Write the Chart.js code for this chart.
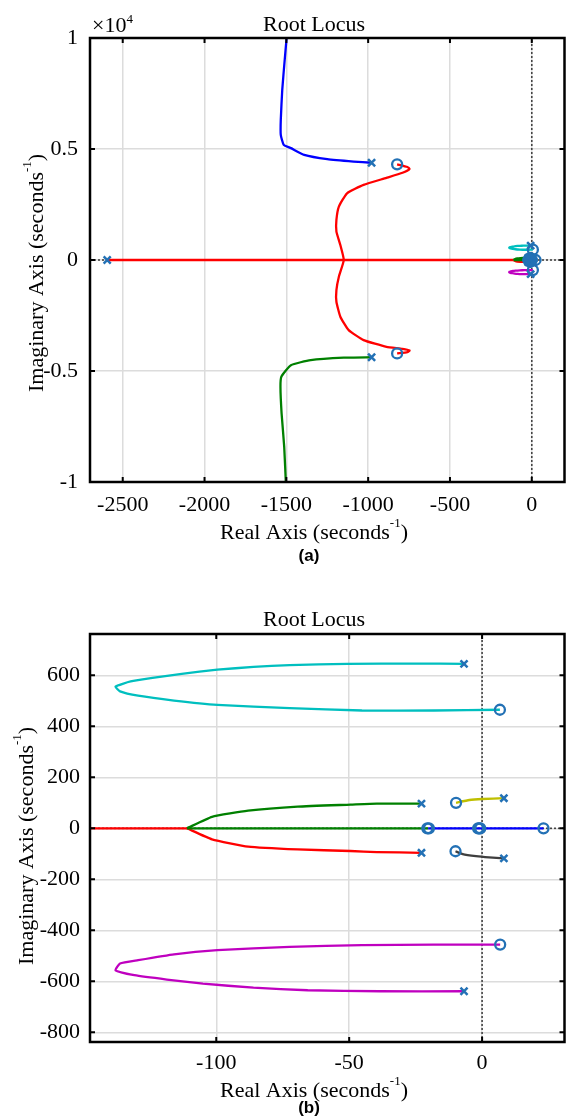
<!DOCTYPE html>
<html>
<head>
<meta charset="utf-8">
<script src="https://cdn.jsdelivr.net/npm/chart.js@4.4.1/dist/chart.umd.min.js"></script>
<style>
  html, body { margin: 0; padding: 0; background: #fff; }
  body { width: 572px; height: 1119px; position: relative; overflow: hidden; }
  canvas { position: absolute; left: 0; display: block; }
  #graficoA { top: 0; }
  #graficoB { top: 575px; }
</style>
</head>
<body>
<canvas id="graficoA" width="572" height="575"></canvas>
<canvas id="graficoB" width="572" height="544"></canvas>
<script>
const FUENTE_SERIF = "'Liberation Serif', 'Times New Roman', serif";
const FUENTE_SANS = "'Liberation Sans', Arial, sans-serif";
const COLOR_MARCA = "#2371b5";

// ejes de (a)
const ticksXA = [-2500, -2000, -1500, -1000, -500, 0];
const ticksYA = [-10000, -5000, 0, 5000, 10000];
const limXA = [-2700, 200];
const limYA = [-10000, 10000];

// ejes de (b)
const ticksXB = [-100, -50, 0];
const ticksYB = [-800, -600, -400, -200, 0, 200, 400, 600];
const limXB = [-147.5, 31];
const limYB = [-838, 762];

// ramas del lugar de raices (parte real / parte imaginaria)
const azulReal = [-1496, -1510, -1525, -1534, -1534, -1516, -1472, -1391, -1250, -1089, -979];
const azulImag = [10200, 9020, 7667, 6314, 5638, 5187, 5038, 4736, 4542, 4433, 4380];

const verdeReal = [-1502, -1513, -1529, -1536, -1530, -1472, -1351, -1149, -979];
const verdeImag = [-10200, -8420, -6914, -5714, -5250, -4736, -4510, -4400, -4380];

const rojoReal = [-823, -760, -747, -790, -888, -1028, -1129, -1179, -1194, -1194, -1170, -1149,
  -1179, -1194, -1194, -1170, -1119, -1028, -888, -790, -747, -760, -823];
const rojoImag = [4310, 4190, 4100, 3930, 3700, 3383, 3006, 2405, 1804, 1278, 676, 0,
  -752, -1353, -1880, -2556, -3157, -3608, -3910, -4000, -4080, -4150, -4210];

const rojoEjeReal = [-2595, -111];
const rojoEjeImag = [0, 0];

const cianReal = [-6.8, -24.8, -50.7, -72.4, -86, -99.6, -113, -124, -132.2, -137.9, -136.2, -129.4, -115.9, -99.6, -72.4, -45.2, -18.1, 6.7];
const cianImag = [645, 646, 645, 640, 633, 622, 606, 590, 576, 556, 537, 520, 501, 484, 471, 462, 462, 465];

const magentaReal = [6.8, -18.1, -45.2, -72.4, -99.6, -115.9, -129.4, -136.2, -137.9, -130.8, -118.6, -105, -86, -65.6, -38.4, -6.8];
const magentaImag = [-456, -456, -458, -465, -478, -494, -517, -530, -557, -576, -593, -609, -625, -635, -639, -639];

const verdeSupReal = [-111, -101.6, -88, -69.4, -49.5, -39.6, -22.8];
const verdeSupImag = [0, 45, 69, 85, 93, 97, 97];
const verdeEjeReal = [-111, -20.3];
const verdeEjeImag = [0, 0];

const rojoInfReal = [-111, -101.6, -88, -69.4, -49.5, -39.6, -22.8];
const rojoInfImag = [0, -43, -72, -83, -89, -93, -96];

const azulEjeReal = [-20.3, 23.1];
const azulEjeImag = [0, 0];

const amarilloReal = [-9.8, -4.8, 0.1, 8.2];
const amarilloImag = [100, 111, 115, 118];

const grisReal = [-10, -7.3, -2.3, 2.6, 8.2];
const grisImag = [-90, -101, -109, -114, -118];

// polos (x) y ceros (o)
const polosReal = [-2595, -979, -979, -22.8, -22.8, -6.8, -6.8, 8.2, 8.2];
const polosImag = [0, 4380, -4380, 97, -96, 645, -639, 118, -118];
const cerosReal = [-823, -823, 6.7, 6.8, -9.8, -10, -20.6, -20, -1.5, -1.1, -0.7, 23.1];
const cerosImag = [4310, -4210, 465, -456, 100, -90, 0, 0, 0, 0, 0, 0];

function puntos(re, im) {
  return re.map((x, i) => ({ x: x, y: im[i] }));
}

function linea(re, im, color, extra) {
  return Object.assign({
    data: puntos(re, im),
    showLine: true,
    borderColor: color,
    backgroundColor: color,
    borderWidth: 2.3,
    pointRadius: 0,
    pointHoverRadius: 0,
    fill: false,
    tension: 0.15
  }, extra || {});
}

function crearDatasets(limX, limY) {
  return [
    {
      data: puntos(polosReal, polosImag),
      showLine: false,
      pointStyle: "crossRot",
      pointRadius: 5,
      borderColor: COLOR_MARCA,
      borderWidth: 2.5
    },
    {
      data: puntos(cerosReal, cerosImag),
      showLine: false,
      pointStyle: "circle",
      pointRadius: 5,
      borderColor: COLOR_MARCA,
      backgroundColor: "rgba(0,0,0,0)",
      borderWidth: 2.3
    },
    linea(amarilloReal, amarilloImag, "#bfbf00"),
    linea(grisReal, grisImag, "#3f3f3f"),
    linea(azulEjeReal, azulEjeImag, "#0000ff", { tension: 0 }),
    linea(verdeSupReal, verdeSupImag, "#008000"),
    linea(verdeEjeReal, verdeEjeImag, "#008000", { tension: 0 }),
    linea(rojoInfReal, rojoInfImag, "#ff0000"),
    linea(cianReal, cianImag, "#00bfbf"),
    linea(magentaReal, magentaImag, "#bf00bf"),
    linea(azulReal, azulImag, "#0000ff"),
    linea(verdeReal, verdeImag, "#008000"),
    linea(rojoReal, rojoImag, "#ff0000"),
    linea(rojoEjeReal, rojoEjeImag, "#ff0000", { tension: 0 }),
    linea([0, 0], limY, "#444", { borderDash: [2, 2], borderWidth: 1.6, tension: 0 }),
    linea(limX, [0, 0], "#444", { borderDash: [2, 2], borderWidth: 1.6, tension: 0 })
  ];
}

function escribir(ctx, partes, x, y, alineacion) {
  let total = 0;
  partes.forEach((p) => {
    ctx.font = `${p[1]}px ${FUENTE_SERIF}`;
    total += ctx.measureText(p[0]).width;
  });
  let cx = alineacion === "center" ? x - total / 2 : x;
  ctx.textAlign = "left";
  partes.forEach((p) => {
    ctx.font = `${p[1]}px ${FUENTE_SERIF}`;
    ctx.fillText(p[0], cx, y - p[2]);
    cx += ctx.measureText(p[0]).width;
  });
}

const decoracion = {
  id: "decoracion",
  afterDraw(chart, args, op) {
    const { ctx, chartArea: a, scales } = chart;
    ctx.save();

    // marcas hacia adentro
    ctx.strokeStyle = "#000";
    ctx.lineWidth = 2;
    ctx.beginPath();
    scales.x.ticks.forEach((t) => {
      const px = scales.x.getPixelForValue(t.value);
      ctx.moveTo(px, a.bottom);
      ctx.lineTo(px, a.bottom - 5);
      ctx.moveTo(px, a.top);
      ctx.lineTo(px, a.top + 5);
    });
    scales.y.ticks.forEach((t) => {
      const py = scales.y.getPixelForValue(t.value);
      ctx.moveTo(a.left, py);
      ctx.lineTo(a.left + 5, py);
      ctx.moveTo(a.right, py);
      ctx.lineTo(a.right - 5, py);
    });
    ctx.stroke();

    ctx.lineWidth = 2.5;
    ctx.strokeRect(a.left, a.top, a.right - a.left, a.bottom - a.top);

    // textos
    ctx.fillStyle = "#000";
    ctx.textBaseline = "alphabetic";
    escribir(ctx, [["Root Locus", 22, 0]], 314, op.tituloY, "center");
    escribir(ctx, [["Real Axis (seconds", 22, 0], ["-1", 13, 12], [")", 22, 0]], 314, op.ejeXY, "center");

    ctx.save();
    ctx.translate(op.ejeYX, op.ejeYInicio);
    ctx.rotate(-Math.PI / 2);
    escribir(ctx, [["Imaginary Axis (seconds", 22, 0], ["-1", 13, 12], [")", 22, 0]], 0, 0, "left");
    ctx.restore();

    if (op.exponente) {
      escribir(ctx, [["\u00d710", 22, 0], ["4", 13, 9]], 92, 31.5, "left");
    }

    ctx.font = `bold 17px ${FUENTE_SANS}`;
    ctx.textAlign = "center";
    ctx.fillText(op.etiqueta, 309, op.etiquetaY);
    ctx.restore();
  }
};

function crearGrafico(id, cfg) {
  const contexto = document.getElementById(id);
  return new Chart(contexto, {
    type: "scatter",
    data: { datasets: crearDatasets(cfg.limX, cfg.limY) },
    plugins: [decoracion],
    options: {
      responsive: false,
      animation: false,
      events: [],
      layout: { padding: { top: cfg.arriba, right: 3, left: 0, bottom: 0 } },
      plugins: {
        legend: { display: false },
        title: { display: false },
        tooltip: { enabled: false },
        decoracion: cfg.textos
      },
      scales: {
        x: {
          type: "linear",
          min: cfg.limX[0],
          max: cfg.limX[1],
          afterBuildTicks: (escala) => {
            escala.ticks = cfg.ticksX.map((v) => ({ value: v }));
          },
          afterFit: (escala) => {
            escala.height = cfg.altoEjeX;
          },
          grid: { color: "#dcdcdc", lineWidth: 1.5, drawTicks: false },
          border: { display: false },
          ticks: {
            color: "#000",
            padding: cfg.padX,
            maxRotation: 0,
            font: { family: FUENTE_SERIF, size: 22 },
            callback: (v) => String(v)
          }
        },
        y: {
          type: "linear",
          min: cfg.limY[0],
          max: cfg.limY[1],
          afterBuildTicks: (escala) => {
            escala.ticks = cfg.ticksY.map((v) => ({ value: v }));
          },
          afterFit: (escala) => {
            escala.width = 90;
          },
          grid: { color: "#dcdcdc", lineWidth: 1.5, drawTicks: false },
          border: { display: false },
          ticks: {
            color: "#000",
            padding: cfg.padY,
            font: { family: FUENTE_SERIF, size: 22 },
            callback: (v) => String(v / cfg.escalaY)
          }
        }
      }
    }
  });
}

crearGrafico("graficoA", {
  limX: limXA, limY: limYA, ticksX: ticksXA, ticksY: ticksYA,
  arriba: 38, altoEjeX: 93, padX: 10, padY: 12, escalaY: 10000,
  textos: { tituloY: 31, ejeXY: 539, ejeYX: 43, ejeYInicio: 392, exponente: true, etiqueta: "(a)", etiquetaY: 561 }
});

crearGrafico("graficoB", {
  limX: limXB, limY: limYB, ticksX: ticksXB, ticksY: ticksYB,
  arriba: 59, altoEjeX: 77, padX: 8, padY: 10, escalaY: 1,
  textos: { tituloY: 51, ejeXY: 522, ejeYX: 33, ejeYInicio: 390, exponente: false, etiqueta: "(b)", etiquetaY: 538 }
});
</script>
</body>
</html>
